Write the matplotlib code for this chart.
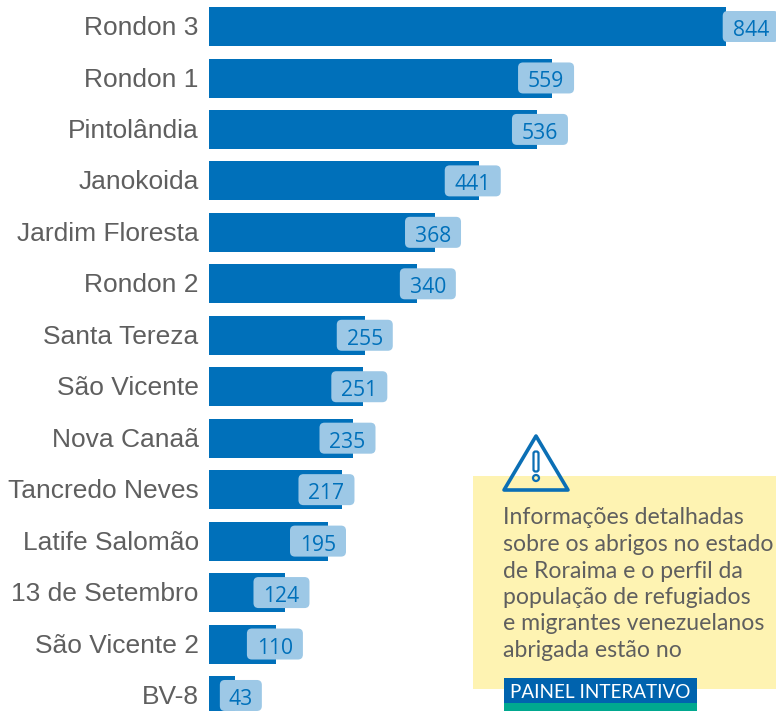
import matplotlib
matplotlib.use("Agg")
import matplotlib.pyplot as plt
from matplotlib.patches import FancyBboxPatch, Rectangle, Polygon, Circle
from matplotlib.transforms import ScaledTranslation

categories = ["Rondon 3", "Rondon 1", "Pintolândia", "Janokoida", "Jardim Floresta", "Rondon 2",
              "Santa Tereza", "São Vicente", "Nova Canaã", "Tancredo Neves", "Latife Salomão",
              "13 de Setembro", "São Vicente 2", "BV-8"]
values = [844, 559, 536, 441, 368, 340, 255, 251, 235, 217, 195, 124, 110, 43]
label_shift_px = [24.5, -5.5, 2.5, -6.5, -1.5, 10.5, -0.5, -3.5, -5.5, -15.5, -10.5, -3.5, -1.5, 5.5]
panel_lines = ["Informações detalhadas", "sobre os abrigos no estado", "de Roraima e o perfil da",
               "população de refugiados", "e migrantes venezuelanos", "abrigada estão no"]
button_text = "PAINEL INTERATIVO"

BLUE = "#0070BA"
LIGHT = "#9DC8E6"
GRAY = "#5F5F5F"
W, H = 776, 711
PX_PER_UNIT = 0.6128

fig = plt.figure(figsize=(W / 100, H / 100), dpi=100, facecolor="white")
ax = fig.add_axes([209 / W, 0, (W - 209) / W, 1])
ax.barh(range(len(values)), values, height=0.758, color=BLUE, linewidth=0)
ax.set_xlim(0, (W - 209) / PX_PER_UNIT)
ax.set_ylim(13.30, -0.517)
ax.set_yticks(range(len(categories)))
ax.set_yticklabels(categories, fontfamily="Liberation Sans", fontsize=19, color=GRAY)
ax.tick_params(axis="y", length=0, pad=7.4)
shift_up = ScaledTranslation(0, 1 / 100, fig.dpi_scale_trans)
for lab in ax.get_yticklabels():
    lab.set_transform(lab.get_transform() + shift_up)
ax.xaxis.set_visible(False)
for s in ax.spines.values():
    s.set_visible(False)
ax.patch.set_alpha(0)

ov = fig.add_axes([0, 0, 1, 1])
ov.set_xlim(0, W)
ov.set_ylim(H, 0)
ov.axis("off")
ov.patch.set_alpha(0)

# value labels
for i, (v, shift) in enumerate(zip(values, label_shift_px)):
    xp = 209 + v * PX_PER_UNIT + shift
    yp = 26.5 + i * 51.46
    bw = 54 if v >= 100 else 40
    ov.add_patch(FancyBboxPatch((xp - bw / 2, yp - 14.5), bw, 29,
                                boxstyle="round,pad=1,rounding_size=5",
                                fc=LIGHT, ec="none", zorder=2))
    ov.text(xp, yp + 4, str(v), ha="center", va="center", fontfamily="Open Sans",
            fontsize=15.2, color=BLUE, zorder=3)

# yellow panel
ov.add_patch(Rectangle((473, 476), W - 473, 213, fc="#FEF3B2", ec="none", zorder=1))
for k, line in enumerate(panel_lines):
    ov.text(503, 524.5 + k * 26.5, line, ha="left", va="baseline", fontfamily="Lato",
            fontsize=16.6, color=GRAY, zorder=3)

# button
ov.add_patch(Rectangle((504, 678), 193, 26, fc="#0063AE", ec="none", zorder=3))
ov.add_patch(Rectangle((504, 703), 193, 8, fc="#00A88F", ec="none", zorder=3))
ov.text(510, 698, button_text, ha="left", va="baseline", fontfamily="Lato",
        fontsize=13.6, color="white", zorder=4)

# warning icon
ov.add_patch(Polygon([(536, 436), (568, 490), (504, 490)], closed=True, fc="none", ec="#0B6FB5",
                     lw=2.6, joinstyle="round", zorder=4))
ov.add_patch(FancyBboxPatch((534, 452), 4, 19, boxstyle="round,pad=0.5,rounding_size=2",
                            fc="none", ec="#0B6FB5", lw=1.6, zorder=4))
ov.add_patch(Circle((536, 478), 3, fc="none", ec="#0B6FB5", lw=1.6, zorder=4))

fig.savefig("out.png", dpi=100)
